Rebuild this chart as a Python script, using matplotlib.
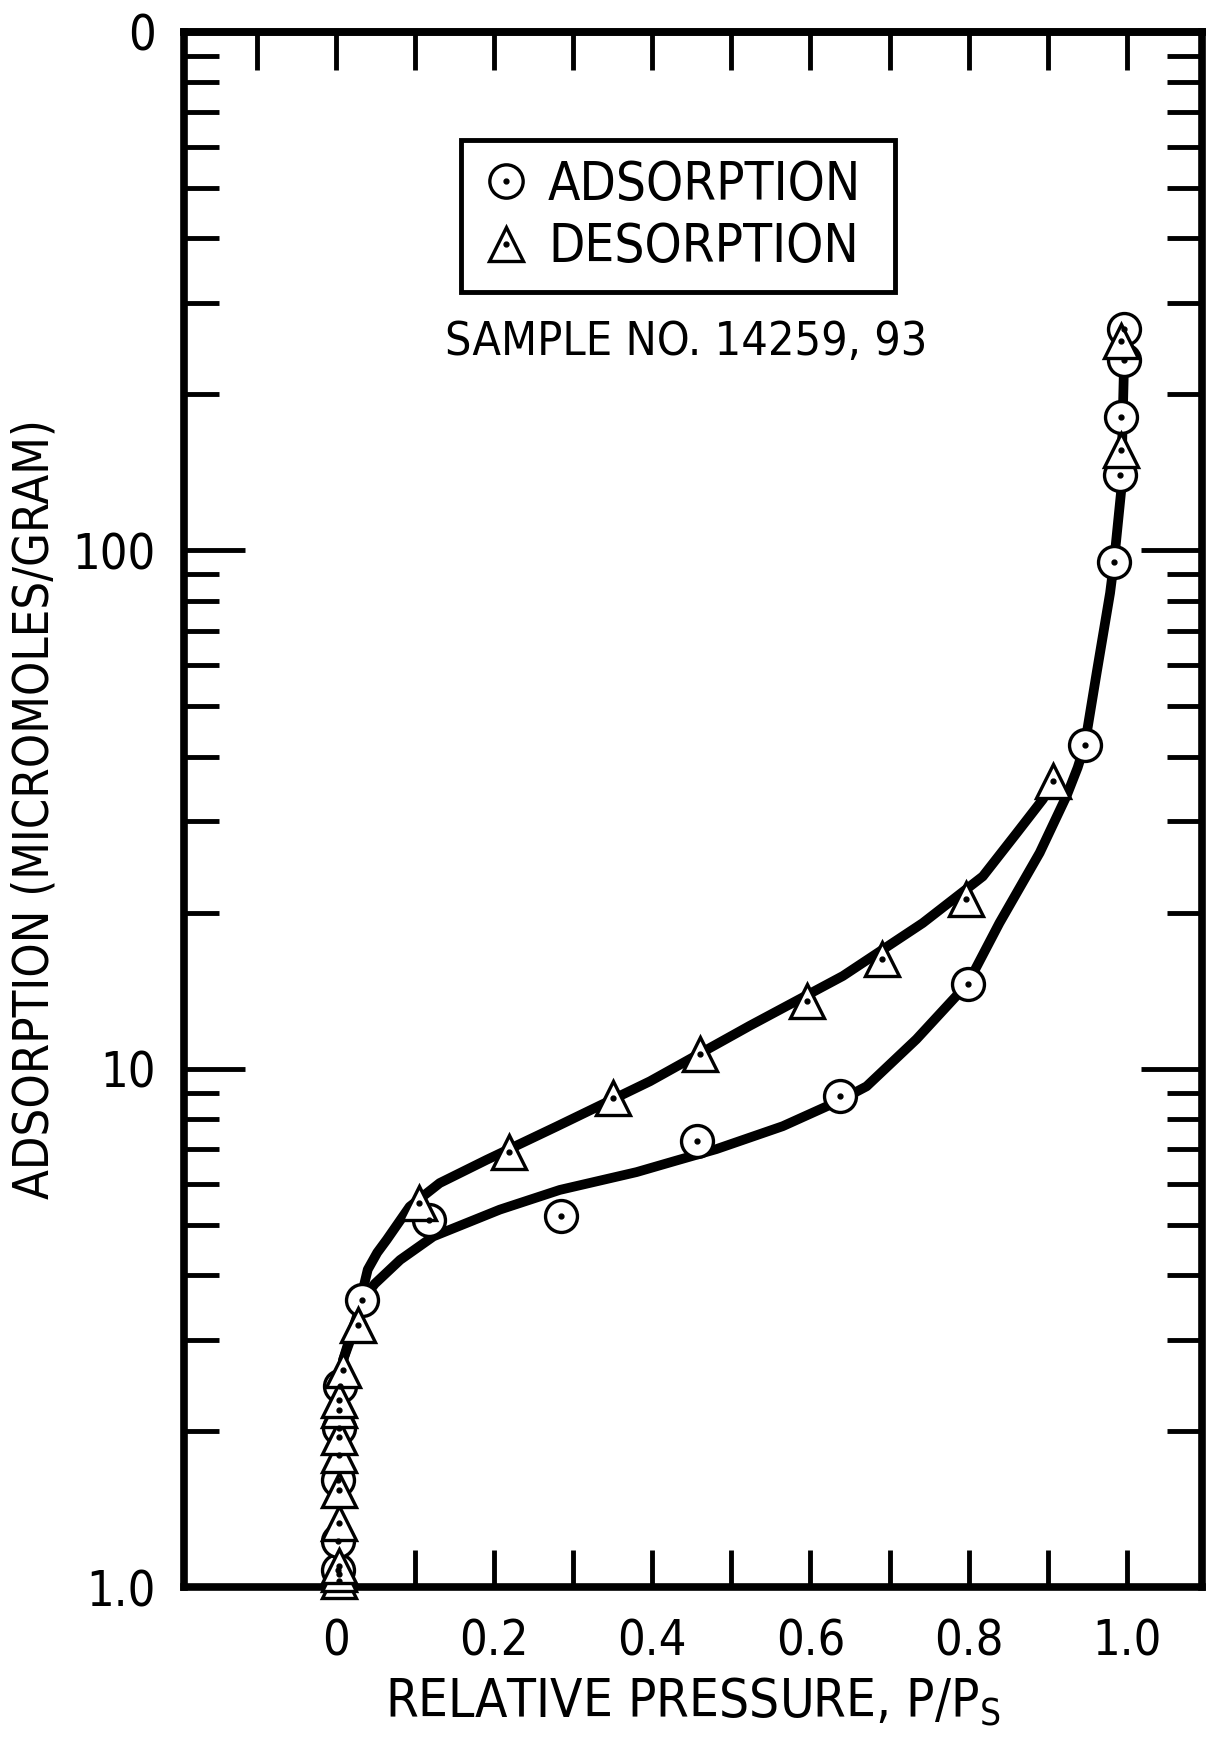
import numpy as np
import matplotlib.pyplot as plt
from matplotlib import font_manager
from matplotlib.lines import Line2D
from matplotlib.legend_handler import HandlerTuple
from matplotlib.ticker import FixedLocator, NullFormatter

# pick a narrow face if there is one, the scan uses a condensed lettering
names = {f.name for f in font_manager.fontManager.ttflist}
FONT = 'Liberation Sans Narrow' if 'Liberation Sans Narrow' in names else 'DejaVu Sans'
plt.rcParams['font.family'] = FONT
if FONT == 'DejaVu Sans':
    plt.rcParams['font.stretch'] = 'condensed'
plt.rcParams['mathtext.default'] = 'regular'

ads_x = [0.002, 0.002, 0.002, 0.003, 0.005, 0.033, 0.118, 0.284, 0.456,
         0.638, 0.799, 0.947, 0.984, 0.991, 0.993, 0.997, 0.996]
ads_y = [1.08, 1.23, 1.61, 2.03, 2.44, 3.58, 5.1, 5.2, 7.25,
         8.85, 14.6, 42.1, 95, 140, 181, 233, 267]

des_x = [0.003, 0.004, 0.003, 0.003, 0.003, 0.003, 0.003, 0.004, 0.004,
         0.009, 0.028, 0.105, 0.219, 0.350, 0.460, 0.596, 0.690, 0.797,
         0.907, 0.993, 0.993]
des_y = [1.03, 1.06, 1.10, 1.33, 1.54, 1.80, 1.95, 2.20, 2.30,
         2.63, 3.21, 5.5, 6.92, 8.78, 10.7, 13.5, 16.3, 21.3,
         35.9, 156, 253]

# hand drawn fit curves
ads_curve_x = [0.004, 0.009, 0.018, 0.033, 0.049, 0.081, 0.123, 0.207, 0.283,
               0.380, 0.430, 0.481, 0.565, 0.638, 0.671, 0.734, 0.799, 0.839,
               0.890, 0.924, 0.938, 0.947, 0.962, 0.979, 0.984, 0.993, 0.995,
               0.997]
ads_curve_y = [2.45, 2.75, 3.05, 3.58, 3.85, 4.28, 4.75, 5.35, 5.84,
               6.32, 6.65, 7.0, 7.75, 8.70, 9.25, 11.4, 14.6, 19.1,
               26.1, 33.6, 38.1, 42.1, 58.0, 82.7, 95.0, 130, 180,
               240]

des_curve_x = [0.004, 0.009, 0.018, 0.028, 0.033, 0.040, 0.052, 0.064, 0.093,
               0.131, 0.190, 0.279, 0.397, 0.523, 0.641, 0.742, 0.818, 0.861,
               0.894, 0.907]
des_curve_y = [2.45, 2.75, 3.00, 3.30, 3.70, 4.10, 4.42, 4.68, 5.42,
               6.02, 6.67, 7.74, 9.46, 12.1, 15.1, 19.1, 23.5, 28.5,
               33.1, 35.9]

x_ticks = [0, 0.1, 0.2, 0.3, 0.4, 0.5, 0.6, 0.7, 0.8, 0.9, 1.0]
x_labels = ['0', '', '0.2', '', '0.4', '', '0.6', '', '0.8', '', '1.0']
top_ticks = [-0.1] + x_ticks
y_ticks = [1, 10, 100, 1000]
y_labels = ['1.0', '10', '100', '0']

fig = plt.figure(figsize=(12.06, 17.46), dpi=100)
ax = fig.add_axes([0.1522, 0.0909, 0.8443, 0.8909])

ax.plot(ads_curve_x, ads_curve_y, color='black', lw=7, solid_capstyle='round',
        solid_joinstyle='round', zorder=2)
ax.plot(des_curve_x, des_curve_y, color='black', lw=7, solid_capstyle='round',
        solid_joinstyle='round', zorder=2)

ax.plot(ads_x, ads_y, linestyle='none', marker='o', ms=23, mfc='white',
        mec='black', mew=2.4, zorder=3, clip_on=False)
ax.plot(des_x, des_y, linestyle='none', marker='^', ms=24, mfc='white',
        mec='black', mew=2.4, zorder=3, clip_on=False)
ax.plot(ads_x + des_x, ads_y + des_y, linestyle='none', marker='o', ms=3.5,
        color='black', zorder=4, clip_on=False)

ax.set_yscale('log')
ax.set_ylim(1, 1000)
ax.set_xlim(-0.193, 1.095)

ax.set_yticks(y_ticks, y_labels)
ax.yaxis.set_minor_locator(FixedLocator(
    [m * d for d in (1, 10, 100) for m in range(2, 10)]))
ax.yaxis.set_minor_formatter(NullFormatter())
ax.set_xticks(x_ticks, x_labels)

for s in ax.spines.values():
    s.set_linewidth(5.5)

ax.tick_params(axis='y', which='major', direction='in', length=44, width=3.5,
               left=True, right=True, labelsize=35, pad=20)
ax.tick_params(axis='y', which='minor', direction='in', length=25, width=3.5,
               left=True, right=True)
ax.tick_params(axis='x', which='major', direction='in', length=27, width=3.5,
               labelsize=35, pad=22)

top = ax.secondary_xaxis('top')
top.set_xticks(top_ticks, [''] * len(top_ticks))
top.tick_params(direction='in', length=27, width=3.5)
top.spines['top'].set_linewidth(5.5)

ax.set_xlabel('RELATIVE PRESSURE, P/P$_{S}$', fontsize=38)
ax.xaxis.set_label_coords(0.50, -0.057)
ax.set_ylabel('ADSORPTION (MICROMOLES/GRAM)', fontsize=35)
ax.yaxis.set_label_coords(-0.123, 0.50)

ax.text(0.4935, 0.8005, 'SAMPLE NO. 14259, 93', transform=ax.transAxes,
        ha='center', va='center', fontsize=33.5)

h_ads = (Line2D([], [], ls='none', marker='o', ms=24, mfc='white', mec='black', mew=2.4),
         Line2D([], [], ls='none', marker='o', ms=3.5, color='black'))
h_des = (Line2D([], [], ls='none', marker='^', ms=25, mfc='white', mec='black', mew=2.4),
         Line2D([], [], ls='none', marker='o', ms=3.5, color='black'))
leg = ax.legend([h_ads, h_des], ['ADSORPTION', 'DESORPTION'],
                handler_map={tuple: HandlerTuple(ndivide=1, pad=0)},
                loc='upper left', bbox_to_anchor=(0.2725, 0.9304, 0.4263, 0.0),
                mode='expand', borderaxespad=0, fontsize=38, fancybox=False,
                handlelength=1.0, handletextpad=0.3, borderpad=0.35,
                labelspacing=0.2, framealpha=1)
leg.get_frame().set_edgecolor('black')
leg.get_frame().set_linewidth(3.5)

fig.savefig('out.png', dpi=100, facecolor='white')
